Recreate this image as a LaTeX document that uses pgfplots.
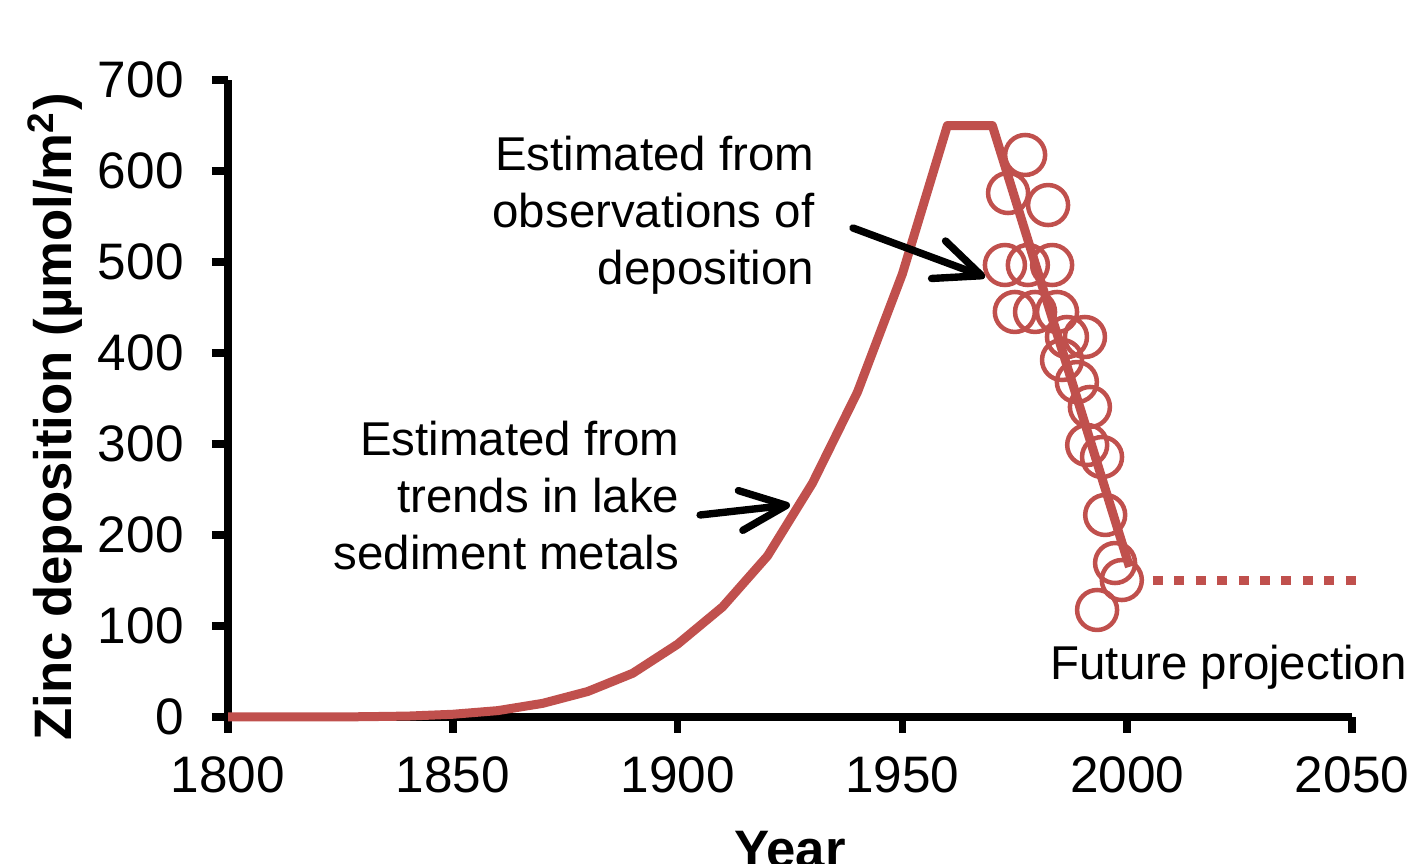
\documentclass[border=0pt]{standalone}
\usepackage{fontspec}
\setmainfont{Liberation Sans}
\usepackage{pgfplots}
\pgfplotsset{compat=1.18}
\usetikzlibrary{arrows.meta}
\definecolor{zincred}{HTML}{C0504D}

\begin{document}
\begin{tikzpicture}
\begin{axis}[
  scale only axis,
  width=112.4mm, height=63.7mm,
  xmin=1800, xmax=2050, ymin=0, ymax=700,
  axis lines*=left,
  axis line style={line width=2.2pt, black},
  xtick={1800,1850,...,2050},
  ytick={0,100,...,700},
  tick align=outside,
  major tick length=1.6mm,
  every tick/.style={line width=2.2pt, black},
  /pgf/number format/assume math mode=true,
  x tick label style={/pgf/number format/1000 sep={}, font=\fontsize{14.6}{17}\selectfont, yshift=-1.1mm},
  y tick label style={font=\fontsize{14.6}{17}\selectfont, xshift=-1.6mm},
  xlabel={Year},
  ylabel={Zinc deposition (µmol/m\textsuperscript{2})},
  every axis x label/.style={at={(axis description cs:0.5,-0.1775)}, anchor=north, inner sep=0pt,
    font=\fontsize{15}{18}\selectfont\bfseries},
  every axis y label/.style={at={(axis description cs:-0.154,0.471)}, rotate=90, anchor=center, inner sep=0pt,
    font=\fontsize{15}{18}\selectfont\bfseries},
  clip=false,
]
% deposition reconstructed from lake sediment metals, then the observed decline
\addplot[zincred, line width=0.9mm, line join=round] coordinates {
  (1800,0) (1810,0) (1820,0) (1830,0.3) (1840,1) (1850,3) (1860,7) (1870,15)
  (1880,28) (1890,48) (1900,80) (1910,121) (1920,177) (1930,257) (1940,357)
  (1950,487) (1960,650) (1970,650) (2000.5,165)
};
% observed deposition
\addplot[only marks, mark=o, mark size=2mm, mark options={zincred, line width=0.45mm}] coordinates {
  (1977.3,617.6) (1973.5,575.8) (1982.4,562.6)
  (1972.8,496.7) (1977.9,496.7) (1983.3,496.7)
  (1975.0,445.1) (1979.5,445.1) (1984.4,445.1)
  (1986.6,417.6) (1990.6,417.6) (1985.5,392.3)
  (1988.8,368.1) (1991.7,340.7) (1991.1,298.9)
  (1994.4,285.7) (1995.1,222.0) (1997.3,169.2)
  (1998.8,150.5) (1993.3,117.6)
};
% future projection
\addplot[zincred, line width=0.95mm, dash pattern=on 1mm off 1.144mm] coordinates {
  (2005.7,150) (2050.9,150)
};

\node[anchor=east, align=right, inner sep=0pt, font=\fontsize{13.5}{16.2}\selectfont]
  at (axis cs:1930.56,551.6) {Estimated from\\observations of\\deposition};
\node[anchor=east, align=right, inner sep=0pt, font=\fontsize{13.5}{16.2}\selectfont]
  at (axis cs:1900.53,243.4) {Estimated from\\trends in lake\\sediment metals};
\node[anchor=base west, inner sep=0pt, font=\fontsize{13.5}{16.2}\selectfont]
  at (axis cs:1982.8,40.7) {Future projection};

\draw[black, line width=2.1pt, line cap=round, -{Straight Barb[length=4.6mm, width=4mm, round]}]
  (axis cs:1939.0,537.4) -- (axis cs:1968.4,483.5);
\draw[black, line width=2.1pt, line cap=round, -{Straight Barb[length=4.6mm, width=4mm, round]}]
  (axis cs:1905.0,222.0) -- (axis cs:1925.0,233.0);

\coordinate (bbsw) at (rel axis cs:-0.20285,-0.23077);
\coordinate (bbne) at (rel axis cs:1.06406,1.12559);
\end{axis}
\pgfresetboundingbox
\path[use as bounding box] (bbsw) rectangle (bbne);
\end{tikzpicture}
\end{document}
